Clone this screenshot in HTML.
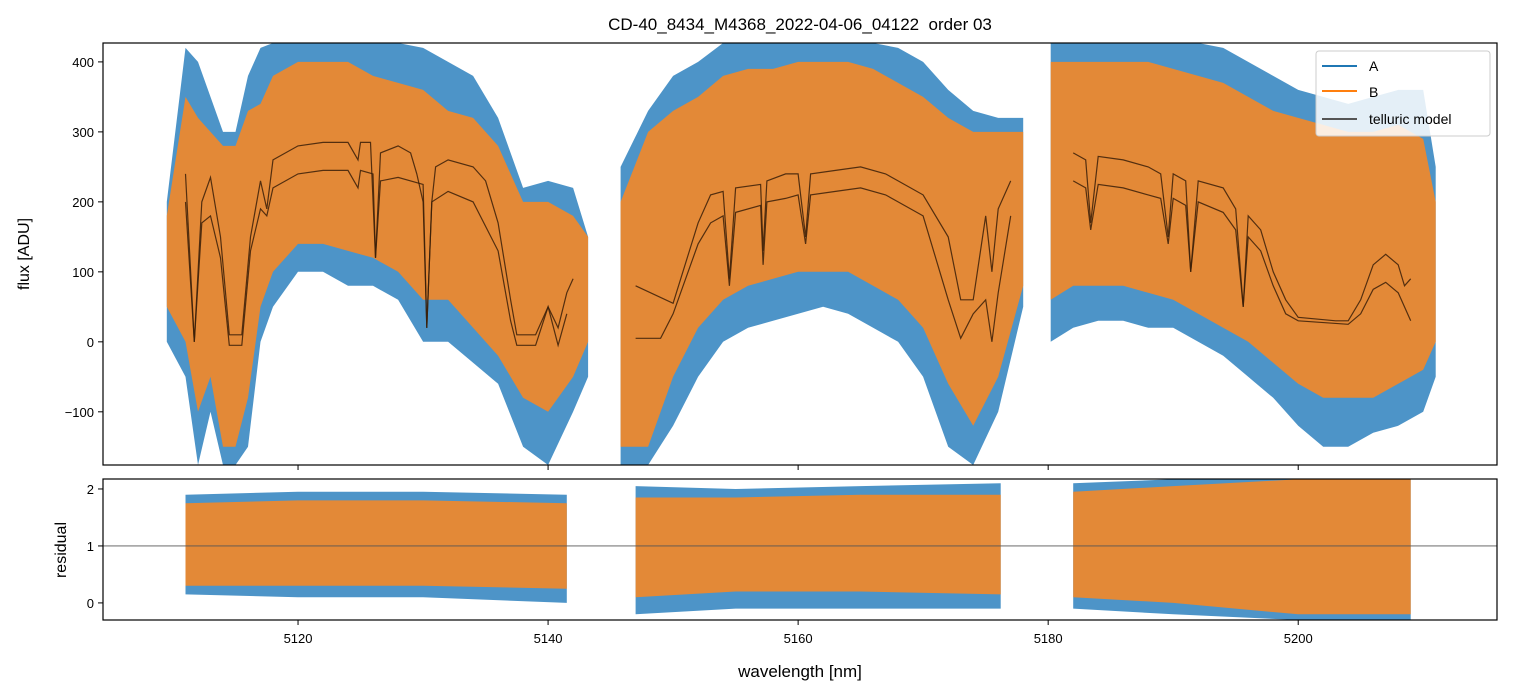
<!DOCTYPE html>
<html><head><meta charset="utf-8">
<style>
body{margin:0;background:#fff;}
svg{display:block;font-family:"Liberation Sans","DejaVu Sans",sans-serif;}
</style></head>
<body>
<svg id="chart" width="1513" height="696" viewBox="0 0 1513 696" xmlns="http://www.w3.org/2000/svg">
<defs>
<clipPath id="clipTop"><rect x="103" y="43" width="1394" height="422"/></clipPath>
<clipPath id="clipBot"><rect x="103" y="479" width="1394" height="141"/></clipPath>
</defs>
<rect width="1513" height="696" fill="#fff"/>
<text x="800" y="30" text-anchor="middle" font-size="17" style="white-space:pre">CD-40_8434_M4368_2022-04-06_04122  order 03</text>
<g id="topPlot" clip-path="url(#clipTop)"></g>
<g id="botPlot" clip-path="url(#clipBot)"></g>
<g id="axes"></g>
<text transform="translate(29,254) rotate(-90)" text-anchor="middle" font-size="16">flux [ADU]</text>
<text transform="translate(66,550) rotate(-90)" text-anchor="middle" font-size="16">residual</text>
<text x="800" y="677" text-anchor="middle" font-size="17">wavelength [nm]</text>
<g>
<rect x="1316" y="51" width="174" height="85" rx="3" fill="#fff" fill-opacity="0.85" stroke="#ccc"/>
<line x1="1322" y1="66" x2="1357" y2="66" stroke="#1f77b4" stroke-width="2"/>
<text x="1369" y="71" font-size="14">A</text>
<line x1="1322" y1="91" x2="1357" y2="91" stroke="#ff7f0e" stroke-width="2"/>
<text x="1369" y="97" font-size="14">B</text>
<line x1="1322" y1="119" x2="1357" y2="119" stroke="#555" stroke-width="2"/>
<text x="1369" y="124" font-size="14">telluric model</text>
</g>
</svg>
<script>
const xTicks=[5120,5140,5160,5180,5200];
const yTicksTop=[-100,0,100,200,300,400];
const yTicksBot=[0,1,2];
const envA=[
[[5109.5,0,200],[5111,-50,420],[5112,-176,400],[5113,-100,350],[5114,-176,300],[5115,-176,300],[5116,-150,380],[5117,0,420],[5118,50,427],[5120,100,427],[5122,100,427],[5124,80,427],[5126,80,427],[5128,60,427],[5130,0,420],[5132,0,400],[5134,-30,380],[5136,-60,320],[5138,-150,220],[5140,-176,230],[5142,-100,220],[5143.2,-50,150]],
[[5145.8,-176,250],[5148,-176,330],[5150,-120,380],[5152,-50,400],[5154,0,427],[5156,20,427],[5158,30,427],[5160,40,427],[5162,50,427],[5164,40,427],[5166,20,427],[5168,0,420],[5170,-50,400],[5172,-150,360],[5174,-176,330],[5176,-100,320],[5178,50,320]],
[[5180.2,0,427],[5182,20,427],[5184,30,427],[5186,30,427],[5188,20,427],[5190,20,427],[5192,0,427],[5194,-20,420],[5196,-50,400],[5198,-80,380],[5200,-120,360],[5202,-150,350],[5204,-150,340],[5206,-130,350],[5208,-120,360],[5210,-100,360],[5211,-50,250]]
];
const envB=[
[[5109.5,50,180],[5111,0,350],[5112,-100,320],[5113,-50,300],[5114,-150,280],[5115,-150,280],[5116,-80,330],[5117,50,340],[5118,100,380],[5120,140,400],[5122,140,400],[5124,130,400],[5126,120,380],[5128,100,370],[5130,60,360],[5132,60,330],[5134,20,320],[5136,-20,280],[5138,-80,200],[5140,-100,200],[5142,-50,180],[5143.2,0,150]],
[[5145.8,-150,200],[5148,-150,300],[5150,-50,330],[5152,20,350],[5154,60,380],[5156,80,390],[5158,90,390],[5160,100,400],[5162,100,400],[5164,100,400],[5166,80,390],[5168,60,370],[5170,20,350],[5172,-60,320],[5174,-120,300],[5176,-50,300],[5178,80,300]],
[[5180.2,60,400],[5182,80,400],[5184,80,400],[5186,80,400],[5188,70,400],[5190,60,390],[5192,40,380],[5194,20,370],[5196,0,350],[5198,-30,330],[5200,-60,320],[5202,-80,310],[5204,-80,300],[5206,-80,300],[5208,-60,310],[5210,-40,290],[5211,0,200]]
];
const modelUpper=[
[[5111,240],[5111.7,0],[5112.3,200],[5113,235],[5113.8,150],[5114.5,10],[5115.5,10],[5116.2,150],[5117,230],[5117.5,190],[5118,260],[5120,280],[5122,285],[5124,285],[5124.8,260],[5125,285],[5125.8,285],[5126.2,120],[5126.6,270],[5128,280],[5129,270],[5129.5,240],[5130,200],[5130.3,20],[5130.7,200],[5131,250],[5132,260],[5134,250],[5135,230],[5136,170],[5137,60],[5137.5,10],[5139,10],[5140,50],[5140.8,20],[5141.5,70],[5142,90]],
[[5147,80],[5150,55],[5152,170],[5153,210],[5154,215],[5154.5,90],[5155,220],[5157,225],[5157.2,130],[5157.5,230],[5159,240],[5160,240],[5160.6,150],[5161,240],[5163,245],[5165,250],[5167,240],[5168,230],[5170,210],[5172,150],[5173,60],[5174,60],[5175,180],[5175.5,100],[5176,190],[5177,230]],
[[5182,270],[5183,260],[5183.4,170],[5184,265],[5186,260],[5188,250],[5189,240],[5189.6,150],[5190,240],[5191,230],[5191.4,100],[5192,230],[5194,220],[5195,190],[5195.6,50],[5196,180],[5197,160],[5198,100],[5199,60],[5200,35],[5203,30],[5204,30],[5205,60],[5206,110],[5207,125],[5208,110],[5208.5,80],[5209,90]]
];
const modelLower=[
[[5111,200],[5111.7,0],[5112.3,170],[5113,180],[5113.8,120],[5114.5,-5],[5115.5,-5],[5116.2,130],[5117,190],[5117.5,180],[5118,220],[5120,240],[5122,245],[5124,245],[5124.8,220],[5125,245],[5126,240],[5126.2,120],[5126.6,230],[5128,235],[5130,225],[5130.3,20],[5130.7,200],[5132,215],[5134,200],[5136,130],[5137,30],[5137.5,-5],[5139,-5],[5140,50],[5140.8,-5],[5141.5,40]],
[[5147,5],[5149,5],[5150,40],[5152,140],[5153,170],[5154,180],[5154.5,80],[5155,185],[5157,195],[5157.2,110],[5157.5,200],[5159,205],[5160,210],[5160.6,140],[5161,210],[5163,215],[5165,220],[5167,210],[5168,200],[5170,180],[5172,60],[5173,5],[5174,40],[5175,60],[5175.5,0],[5176,70],[5177,180]],
[[5182,230],[5183,220],[5183.4,160],[5184,225],[5186,220],[5188,210],[5189,205],[5189.6,140],[5190,205],[5191,195],[5191.4,100],[5192,200],[5194,185],[5195,160],[5195.6,50],[5196,150],[5197,130],[5198,80],[5199,40],[5200,30],[5204,25],[5205,40],[5206,75],[5207,85],[5208,70],[5209,30]]
];
const resA=[
[[5111,0.15,1.9],[5120,0.1,1.95],[5130,0.1,1.95],[5141.5,0.0,1.9]],
[[5147,-0.2,2.05],[5155,-0.1,2.0],[5165,-0.1,2.05],[5176.2,-0.1,2.1]],
[[5182,-0.1,2.1],[5190,-0.2,2.17],[5200,-0.3,2.17],[5209,-0.3,2.17]]
];
const resB=[
[[5111,0.3,1.75],[5120,0.3,1.8],[5130,0.3,1.8],[5141.5,0.25,1.75]],
[[5147,0.1,1.85],[5155,0.2,1.85],[5165,0.2,1.9],[5176.2,0.15,1.9]],
[[5182,0.1,1.95],[5190,0.0,2.05],[5200,-0.2,2.17],[5209,-0.2,2.17]]
];
const NS="http://www.w3.org/2000/svg";
const X=w=>103+(w-5104.4)*(1394/(5215.9-5104.4));
const YT=v=>43+(427-v)*(422/(427+176));
const YB=v=>479+(2.175-v)*(141/2.475);
function mk(tag,attrs,parent){const e=document.createElementNS(NS,tag);for(const k in attrs)e.setAttribute(k,attrs[k]);parent.appendChild(e);return e;}
const gTop=document.getElementById('topPlot'),gBot=document.getElementById('botPlot'),gAx=document.getElementById('axes');
function band(seg,Y,color,op,parent,name){
  const pts=seg.map(p=>X(p[0]).toFixed(1)+','+Y(p[2]).toFixed(1)).concat(seg.slice().reverse().map(p=>X(p[0]).toFixed(1)+','+Y(p[1]).toFixed(1)));
  const e=mk('polygon',{points:pts.join(' '),fill:color,'fill-opacity':op},parent);
  
  
}
envA.forEach((s,i)=>band(s,YT,'#3a88c2',0.9,gTop,'series-a-segment-'+(i+1)));
envB.forEach((s,i)=>band(s,YT,'#f0882a',0.92,gTop,'series-b-segment-'+(i+1)));
function line(seg,Y,parent,name,color,w){
  const e=mk('polyline',{points:seg.map(p=>X(p[0]).toFixed(1)+','+Y(p[1]).toFixed(1)).join(' '),fill:'none',stroke:color,'stroke-width':w,'stroke-opacity':0.85},parent);
  
  
}
modelUpper.forEach((s,i)=>line(s,YT,gTop,'telluric-model-a-'+(i+1),'#3a1e08',1.2));
modelLower.forEach((s,i)=>line(s,YT,gTop,'telluric-model-b-'+(i+1),'#3a1e08',1.2));
resA.forEach((s,i)=>band(s,YB,'#3a88c2',0.9,gBot,'residual-a-segment-'+(i+1)));
resB.forEach((s,i)=>band(s,YB,'#f0882a',0.92,gBot,'residual-b-segment-'+(i+1)));
const ref=mk('line',{x1:103,x2:1497,y1:YB(1),y2:YB(1),stroke:'#555','stroke-width':0.8},gBot);


const f1=mk('rect',{x:103,y:43,width:1394,height:422,fill:'none',stroke:'#000','stroke-width':1.2},gAx);


const f2=mk('rect',{x:103,y:479,width:1394,height:141,fill:'none',stroke:'#000','stroke-width':1.2},gAx);


xTicks.forEach(t=>{
  mk('line',{x1:X(t),x2:X(t),y1:465,y2:470,stroke:'#000'},gAx);
  mk('line',{x1:X(t),x2:X(t),y1:620,y2:625,stroke:'#000'},gAx);
  const tx=mk('text',{x:X(t),y:643,'text-anchor':'middle','font-size':13},gAx);
  tx.textContent=t;
  
  
});
yTicksTop.forEach(t=>{
  mk('line',{x1:98,x2:103,y1:YT(t),y2:YT(t),stroke:'#000'},gAx);
  const tx=mk('text',{x:94,y:YT(t)+5,'text-anchor':'end','font-size':13},gAx);
  tx.textContent=t<0?'\u2212'+(-t):t;
  
  
});
yTicksBot.forEach(t=>{
  mk('line',{x1:98,x2:103,y1:YB(t),y2:YB(t),stroke:'#000'},gAx);
  const tx=mk('text',{x:94,y:YB(t)+5,'text-anchor':'end','font-size':13},gAx);
  tx.textContent=t;
  
  
});
</script>
</body></html>
